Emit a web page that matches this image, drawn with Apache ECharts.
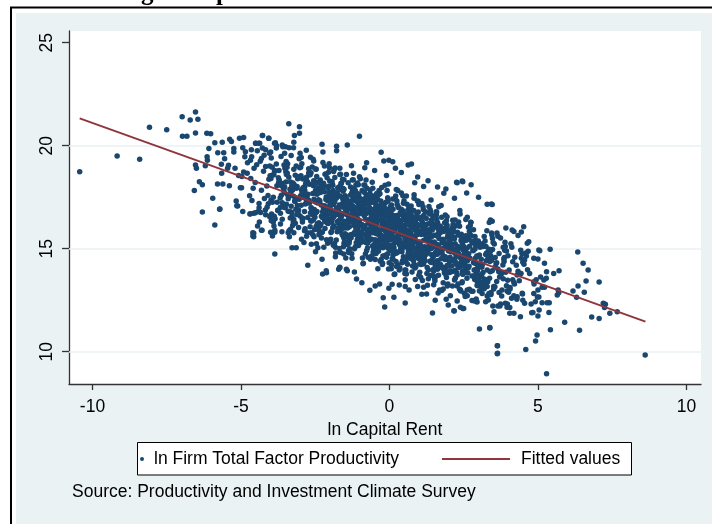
<!DOCTYPE html>
<html>
<head>
<meta charset="utf-8">
<script src="https://cdn.jsdelivr.net/npm/echarts@6/dist/echarts.min.js"></script>
<style>
  html, body { margin: 0; padding: 0; background: #fff; }
  #main { width: 712px; height: 524px; }
</style>
</head>
<body>
<div id="main"></div>
<script>
// axis ticks / gridlines
var rentTicks = [-10, -5, 0, 5, 10];
var tfpTicks = [10, 15, 20, 25];
var gridVals = [10, 15, 20];

// fitted line, read at the two ends
var fitted = [[-10.43, 21.33], [8.62, 11.46]];

// ln capital rent vs ln TFP, firms
var edgeLeft = [[-10.43,18.74],[-9.17,19.5],[-8.41,19.34],[-8.08,20.9],[-7.5,20.78],[-6.98,21.41],[-6.53,21.64],[-6.71,21.25],[-6.45,21.28],[-6.97,20.46],[-6.82,20.46],[-6.53,20.62],[-6.15,20.6],[-6.02,20.58],[-6.53,19.06],[-6.5,18.9],[-6.4,18.25],[-6.3,18.1],[-6.57,17.83],[-6.3,16.78],[-5.95,17.45],[-5.71,16.93],[-5.79,18.14],[-5.61,18.14],[-5.39,18.06],[-6.08,19.87],[-6.14,19.47],[-6.13,19.3],[-6.2,19.03],[-5.88,20.15],[-5.63,20.17],[-5.78,19.66],[-5.58,19.66],[-5.55,19.37],[-5.66,19.1],[-5.65,18.66],[-5.45,18.9],[-5.38,20.31],[-5.32,20.2],[-5.24,19.87],[-5.24,19.7],[-5.42,19.05],[-5.2,18.9],[-5.08,18.55],[-5.02,17.96],[-4.98,17.96],[-5.16,17.32],[-5.14,17.08],[-5.05,20.36],[-4.91,20.4],[-4.94,19.9],[-4.87,19.47],[-4.64,19.47],[-4.5,20.12],[-4.37,20.12],[-4.27,20.49],[-4.07,20.36],[-3.87,20.12],[-4.17,19.8],[-4.65,19.8],[-4.68,19.3],[-4.79,18.66],[-4.57,16.72],[-4.34,16.76],[-4.68,16.7],[-4.01,16.6],[-4.0,19.7],[-3.8,20.0],[-5.88,16.15],[-5.72,16.91],[-5.11,17.07],[-4.7,16.68],[-4.51,16.75],[-4.39,16.99],[-4.18,16.88],[-4.31,15.89],[-4.6,15.78],[-4.6,15.62],[-3.94,15.62],[-3.86,15.8],[-4.03,16.55],[-3.98,16.36],[-3.61,16.43],[-3.67,16.72],[-3.61,17.23]];
var edgeUpper = [[-3.39,21.07],[-3.03,20.92],[-3.03,20.6],[-3.2,20.5],[-1.01,20.46],[-4.28,20.5],[-4.06,20.36],[-4.51,20.12],[-4.4,20.12],[-3.84,20.15],[-3.61,20.03],[-3.5,19.95],[-3.22,20.17],[-3.38,19.9],[-3.23,19.9],[-2.8,19.78],[-2.27,20.07],[-1.78,19.98],[-1.78,19.76],[-1.42,20.03],[-2.24,19.7],[-0.28,19.68],[-0.19,19.26],[-0.02,19.3],[0.11,19.22],[0.63,19.06],[0.74,19.11],[2.28,18.2],[2.45,18.29],[2.75,18.1],[3.29,17.16],[3.43,17.17],[1.83,17.69],[2.19,17.45],[-0.77,19.17],[-0.83,18.93],[-1.28,19.03],[-1.67,18.9],[-2.02,18.93],[-2.66,19.44],[-2.57,19.34],[0.95,18.48],[1.3,18.3],[1.62,18.0],[1.9,17.9],[2.6,17.7],[3.0,17.5],[1.15,18.02],[0.4,18.7],[0.2,18.9],[-0.5,18.8],[-0.1,18.55],[0.85,18.2],[2.26,18.22],[2.47,18.25],[3.46,17.14],[3.4,16.39]];
var edgeLower = [[-3.86,14.74],[-3.28,15.05],[-3.14,15.05],[-4.29,15.9],[-4.57,15.75],[-4.57,15.58],[-4.0,15.8],[-3.86,15.9],[-2.75,14.2],[-2.25,13.77],[-2.12,13.83],[-1.71,14.0],[-1.45,14.0],[-2.96,15.46],[-2.63,15.21],[-2.46,15.24],[-2.49,14.85],[-2.27,14.49],[-2.13,13.93],[-1.82,14.61],[-1.68,14.08],[-1.54,14.74],[-1.42,13.93],[-3.33,15.94],[-3.22,15.78],[-1.67,14.1],[-1.18,13.87],[-1.11,13.53],[-0.93,13.35],[-0.66,12.98],[-0.48,13.19],[-0.33,13.29],[-0.21,12.62],[-0.16,12.17],[0.15,12.64],[0.53,12.36],[-0.02,13.08],[0.09,13.27],[0.33,13.24],[0.53,13.16],[0.66,13.0],[0.95,13.16],[1.15,13.13],[1.09,12.79],[1.25,12.8],[1.45,11.88],[1.54,12.5],[1.64,12.85],[1.81,13.04],[1.91,12.54],[1.98,12.27],[2.18,11.98],[2.28,12.46],[2.39,12.16],[2.5,12.09],[2.62,12.72],[2.62,13.0],[2.92,12.56],[2.95,12.41],[3.03,11.1],[3.38,11.15],[3.63,10.29],[3.63,9.9],[3.12,12.83],[3.29,12.7],[3.42,12.77],[3.65,12.22],[3.29,13.16],[2.17,11.99],[2.47,12.1]];
var edgeRight = [[4.52,16.07],[4.19,15.83],[4.13,15.91],[4.69,15.34],[4.64,15.26],[5.03,14.94],[5.06,14.9],[4.86,14.53],[5.0,14.5],[5.22,14.29],[5.29,13.88],[5.53,13.8],[5.71,13.93],[6.34,14.84],[6.52,14.29],[6.69,13.97],[6.62,13.43],[7.06,13.38],[6.18,12.95],[6.35,13.19],[6.56,12.88],[6.3,12.64],[5.9,11.43],[6.4,11.04],[6.81,11.68],[7.06,11.61],[7.2,12.35],[7.27,12.3],[7.24,12.15],[7.42,11.87],[7.67,11.94],[5.42,11.07],[5.68,13.0],[5.65,12.75],[5.7,12.86],[5.38,12.38],[5.31,12.38],[5.14,12.38],[5.04,12.02],[5.0,11.73],[4.97,10.81],[4.92,10.52],[5.29,8.93],[4.59,10.1],[3.64,10.29],[3.64,9.92],[3.38,11.17],[4.49,12.5],[4.55,12.35],[4.77,12.32],[4.83,11.9],[3.74,12.32],[3.9,12.35],[3.96,12.16],[4.05,11.87],[4.19,11.87],[4.3,12.67],[4.11,12.59],[4.86,12.83],[5.0,13.0],[4.86,13.4],[5.2,13.48],[5.28,13.56],[5.14,13.13],[4.67,14.88],[4.61,14.64],[4.55,14.45],[4.43,13.8],[4.3,13.72],[8.61,9.84]];
var coreA = [[-4.97,18.51],[-4.59,17.94],[-4.78,19.17],[-4.63,17.34],[-4.91,18.72],[-4.52,18.21],[-4.85,19.71],[-4.71,17.57],[-4.56,18.90],[-4.94,16.81],[-4.67,18.41],
[-4.47,19.08],[-4.09,17.58],[-4.28,19.89],[-4.13,18.05],[-4.41,16.82],[-4.02,18.54],[-4.35,19.25],[-4.21,17.44],[-4.06,18.37],[-4.44,16.10],[-4.17,18.99],[-4.31,17.84],[-4.04,19.64],[-4.39,17.20],[-4.24,18.76],
[-3.97,16.68],[-3.59,19.95],[-3.78,17.26],[-3.63,18.04],[-3.91,17.50],[-3.52,18.90],[-3.85,16.45],[-3.71,18.34],[-3.56,17.85],[-3.94,18.58],[-3.67,17.01],[-3.81,19.11],[-3.54,17.73],[-3.89,16.10],[-3.74,18.45],[-3.61,18.16],[-3.99,17.35],[-3.65,19.48],[-3.76,16.87],[-3.87,18.77],[-3.53,17.99],
[-3.47,17.16],[-3.09,18.39],[-3.28,16.56],[-3.13,17.94],[-3.41,17.43],[-3.02,18.93],[-3.35,16.79],[-3.21,18.12],[-3.06,16.03],[-3.44,17.63],[-3.17,18.56],[-3.31,17.06],[-3.04,19.37],[-3.39,17.53],[-3.24,16.30],[-3.11,18.02],[-3.49,18.73],[-3.15,16.92],[-3.26,17.85],[-3.37,15.58],[-3.03,18.47],[-3.19,17.32],[-3.43,19.12],[-3.08,16.68],[-3.33,18.24],[-3.22,16.42],
[-2.97,19.43],[-2.59,16.74],[-2.78,17.52],[-2.63,16.98],[-2.91,18.38],[-2.52,15.93],[-2.85,17.82],[-2.71,17.33],[-2.56,18.06],[-2.94,16.49],[-2.67,18.59],[-2.81,17.21],[-2.54,15.58],[-2.89,17.93],[-2.74,17.64],[-2.61,16.83],[-2.99,18.96],[-2.65,16.35],[-2.76,18.25],[-2.87,17.47],[-2.53,16.90],[-2.69,18.13],[-2.93,16.30],[-2.58,17.68],[-2.83,17.17],[-2.72,18.67],[-2.51,16.53],[-2.96,17.86],[-2.64,15.77],[-2.79,17.37],[-2.55,18.30],[-2.86,16.80],
[-2.47,18.86],[-2.09,17.02],[-2.28,15.79],[-2.13,17.51],[-2.41,18.22],[-2.02,16.41],[-2.35,17.34],[-2.21,15.07],[-2.06,17.96],[-2.44,16.81],[-2.17,18.61],[-2.31,16.17],[-2.04,17.73],[-2.39,15.91],[-2.24,19.18],[-2.11,16.49],[-2.49,17.27],[-2.15,16.73],[-2.26,18.13],[-2.37,15.68],[-2.03,17.57],[-2.19,17.08],[-2.43,17.81],[-2.08,16.24],[-2.33,18.34],[-2.22,16.96],[-2.01,15.33],[-2.46,17.68],[-2.14,17.39],[-2.29,16.58],[-2.05,18.71],[-2.38,16.10],[-2.23,18.00],[-2.42,17.22],[-2.16,16.65],[-2.34,17.88],
[-1.97,15.79],[-1.59,17.17],[-1.78,16.66],[-1.63,18.16],[-1.91,16.02],[-1.52,17.35],[-1.85,15.26],[-1.71,16.86],[-1.56,17.79],[-1.94,16.29],[-1.67,18.60],[-1.81,16.76],[-1.54,15.53],[-1.89,17.25],[-1.74,17.96],[-1.61,16.15],[-1.99,17.08],[-1.65,14.81],[-1.76,17.70],[-1.87,16.55],[-1.53,18.35],[-1.69,15.91],[-1.93,17.47],[-1.58,15.65],[-1.83,18.92],[-1.72,16.23],[-1.51,17.01],[-1.96,16.47],[-1.64,17.87],[-1.79,15.42],[-1.55,17.31],[-1.88,16.82],[-1.73,17.55],[-1.60,15.98],[-1.92,18.08],[-1.68,16.70],[-1.82,15.07],[-1.57,17.42],[-1.98,17.13],[-1.75,16.32]];
var coreB = [[-1.47,14.55],[-1.09,17.44],[-1.28,16.29],[-1.13,18.09],[-1.41,15.65],[-1.02,17.21],[-1.35,15.39],[-1.21,18.66],[-1.06,15.97],[-1.44,16.75],[-1.17,16.21],[-1.31,17.61],[-1.04,15.16],[-1.39,17.05],[-1.24,16.56],[-1.11,17.29],[-1.49,15.72],[-1.15,17.82],[-1.26,16.44],[-1.37,14.81],[-1.03,17.16],[-1.19,16.87],[-1.43,16.06],[-1.08,18.19],[-1.33,15.58],[-1.22,17.48],[-1.01,16.70],[-1.46,16.13],[-1.14,17.36],[-1.29,15.53],[-1.05,16.91],[-1.38,16.40],[-1.23,17.90],[-1.10,15.76],[-1.42,17.09],[-1.18,15.00],[-1.32,16.60],[-1.07,17.53],[-1.48,16.03],[-1.25,18.34],[-1.12,16.50],[-1.36,15.27],[-1.03,16.99],[-1.27,17.70],
[-0.97,17.03],[-0.59,15.46],[-0.78,17.56],[-0.63,16.18],[-0.91,14.55],[-0.52,16.90],[-0.85,16.61],[-0.71,15.80],[-0.56,17.93],[-0.94,15.32],[-0.67,17.22],[-0.81,16.44],[-0.54,15.87],[-0.89,17.10],[-0.74,15.27],[-0.61,16.65],[-0.99,16.14],[-0.65,17.64],[-0.76,15.50],[-0.87,16.83],[-0.53,14.74],[-0.69,16.34],[-0.93,17.27],[-0.58,15.77],[-0.83,18.08],[-0.72,16.24],[-0.51,15.01],[-0.96,16.73],[-0.64,17.44],[-0.79,15.63],[-0.55,16.56],[-0.88,14.29],[-0.73,17.18],[-0.60,16.03],[-0.92,17.83],[-0.68,15.39],[-0.82,16.95],[-0.57,15.13],[-0.98,18.40],[-0.75,15.71],[-0.62,16.49],[-0.86,15.95],[-0.53,17.35],[-0.77,14.90],[-0.66,16.79],
[-0.47,15.24],[-0.09,16.57],[-0.28,14.48],[-0.13,16.08],[-0.41,17.01],[-0.02,15.51],[-0.35,17.82],[-0.21,15.98],[-0.06,14.75],[-0.44,16.47],[-0.17,17.18],[-0.31,15.37],[-0.04,16.30],[-0.39,14.03],[-0.24,16.92],[-0.11,15.77],[-0.49,17.57],[-0.15,15.13],[-0.26,16.69],[-0.37,14.87],[-0.03,18.14],[-0.19,15.45],[-0.43,16.23],[-0.08,15.69],[-0.33,17.09],[-0.22,14.64],[-0.01,16.53],[-0.46,16.04],[-0.14,16.77],[-0.29,15.20],[-0.05,17.30],[-0.38,15.92],[-0.23,14.29],[-0.10,16.64],[-0.42,16.35],[-0.18,15.54],[-0.32,17.67],[-0.07,15.06],[-0.48,16.96],[-0.25,16.18],[-0.12,15.61],[-0.36,16.84],[-0.03,15.01],[-0.27,16.39],[-0.16,15.88],[-0.40,17.38],
[0.03,15.43],[0.41,16.83],[0.22,14.38],[0.37,16.27],[0.09,15.78],[0.48,16.51],[0.15,14.94],[0.29,17.04],[0.44,15.66],[0.06,14.03],[0.33,16.38],[0.19,16.09],[0.46,15.28],[0.11,17.41],[0.26,14.80],[0.39,16.70],[0.01,15.92],[0.35,15.35],[0.24,16.58],[0.13,14.75],[0.47,16.13],[0.31,15.62],[0.07,17.12],[0.42,14.98],[0.17,16.31],[0.28,14.22],[0.49,15.82],[0.04,16.75],[0.36,15.25],[0.21,17.56],[0.45,15.72],[0.12,14.49],[0.27,16.21],[0.40,16.92],[0.08,15.11],[0.32,16.04],[0.18,13.77],[0.43,16.66],[0.02,15.51],[0.25,17.31],[0.38,14.87],[0.14,16.43],[0.47,14.61],[0.23,17.88],[0.34,15.19],[0.10,15.97]];
var coreC = [[0.53,16.66],[0.91,14.85],[0.72,15.78],[0.87,13.51],[0.59,16.40],[0.98,15.25],[0.65,17.05],[0.79,14.61],[0.94,16.17],[0.56,14.35],[0.83,17.62],[0.69,14.93],[0.96,15.71],[0.61,15.17],[0.76,16.57],[0.89,14.12],[0.51,16.01],[0.85,15.52],[0.74,16.25],[0.63,14.68],[0.97,16.78],[0.81,15.40],[0.57,13.77],[0.92,16.12],[0.67,15.83],[0.78,15.02],[0.99,17.15],[0.54,14.54],[0.86,16.44],[0.71,15.66],[0.95,15.09],[0.62,16.32],[0.77,14.49],[0.90,15.87],[0.58,15.36],[0.82,16.86],[0.68,14.72],[0.93,16.05],[0.52,13.96],[0.75,15.56],[0.88,16.49],[0.64,14.99],[0.97,17.30],[0.73,15.46],[0.84,14.23],
[1.03,15.86],[1.41,15.57],[1.22,14.76],[1.37,16.89],[1.09,14.28],[1.48,16.18],[1.15,15.40],[1.29,14.83],[1.44,16.06],[1.06,14.23],[1.33,15.61],[1.19,15.10],[1.46,16.60],[1.11,14.46],[1.26,15.79],[1.39,13.70],[1.01,15.30],[1.35,16.23],[1.24,14.73],[1.13,17.04],[1.47,15.20],[1.31,13.97],[1.07,15.69],[1.42,16.40],[1.17,14.59],[1.28,15.52],[1.49,13.25],[1.04,16.14],[1.36,14.99],[1.21,16.79],[1.45,14.35],[1.12,15.91],[1.27,14.09],[1.40,17.36],[1.08,14.67],[1.32,15.45],[1.18,14.91],[1.43,16.31],[1.02,13.86],[1.25,15.75],[1.38,15.26],[1.14,15.99],
[1.53,13.44],[1.91,15.04],[1.72,15.97],[1.87,14.47],[1.59,16.78],[1.98,14.94],[1.65,13.71],[1.79,15.43],[1.94,16.14],[1.56,14.33],[1.83,15.26],[1.69,12.99],[1.96,15.88],[1.61,14.73],[1.76,16.53],[1.89,14.09],[1.51,15.65],[1.85,13.83],[1.74,17.10],[1.63,14.41],[1.97,15.19],[1.81,14.65],[1.57,16.05],[1.92,13.60],[1.67,15.49],[1.78,15.00],[1.99,15.73],[1.54,14.16],[1.86,16.26],[1.71,14.88],[1.95,13.25],[1.62,15.60],[1.77,15.31],[1.90,14.50],[1.58,16.63],[1.82,14.02],[1.68,15.92],[1.93,15.14],
[2.03,13.84],[2.41,15.40],[2.22,13.58],[2.37,16.85],[2.09,14.16],[2.48,14.94],[2.15,14.40],[2.29,15.80],[2.44,13.35],[2.06,15.24],[2.33,14.75],[2.19,15.48],[2.46,13.91],[2.11,16.01],[2.26,14.63],[2.39,13.00],[2.01,15.35],[2.35,15.06],[2.24,14.25],[2.13,16.38],[2.47,13.77],[2.31,15.67],[2.07,14.89],[2.42,14.32],[2.17,15.55],[2.28,13.72],[2.49,15.10],[2.04,14.59],[2.36,16.09],[2.21,13.95],[2.45,15.28],[2.12,13.19],[2.27,14.79],
[2.53,14.80],[2.91,13.99],[2.72,16.12],[2.87,13.51],[2.59,15.41],[2.98,14.63],[2.65,14.06],[2.79,15.29],[2.94,13.46],[2.56,14.84],[2.83,14.33],[2.69,15.83],[2.96,13.69],[2.61,15.02],[2.76,12.93],[2.89,14.53],[2.51,15.46],[2.85,13.96],[2.74,16.27],[2.63,14.43],[2.97,13.20],[2.81,14.92],[2.57,15.63],[2.92,13.82],[2.67,14.75],[2.78,12.48],[2.99,15.37],[2.54,14.22],
[3.03,12.94],[3.41,14.66],[3.22,15.37],[3.37,13.56],[3.09,14.49],[3.48,12.22],[3.15,15.11],[3.29,13.96],[3.44,15.76],[3.06,13.32],[3.33,14.88],[3.19,13.06],[3.46,16.33],[3.11,13.64],[3.26,14.42],[3.39,13.88],[3.01,15.28],[3.35,12.83],[3.24,14.72],[3.13,14.23],[3.47,14.96],[3.31,13.39],
[3.53,15.23],[3.91,13.85],[3.72,12.22],[3.87,14.57],[3.59,14.28],[3.98,13.47],[3.65,15.60],[3.79,12.99],[3.94,14.89],[3.56,14.11],[3.83,13.54],[3.69,14.77],[3.96,12.94],[3.61,14.32],[3.76,13.81],[3.89,15.31],[3.51,13.17],[3.85,14.50],
[4.03,13.97],[4.41,11.70],[4.22,14.59],[4.37,13.44],[4.09,15.24],[4.48,12.80],[4.15,14.36],[4.29,12.54],[4.44,15.81],[4.06,13.12],[4.33,13.90],[4.19,13.36],[4.46,14.76],
[4.53,14.25],[4.91,12.42],[4.72,13.80],[4.87,13.29],[4.59,14.79],[4.98,12.65],[4.65,13.98],[4.79,11.89],[4.94,13.49],
[5.03,12.66],[5.41,14.97],[5.22,13.13],[5.37,11.90],[5.09,13.62]];
// the solid middle of the cloud, close to the fitted line
var denseA = [[-3.73,18.22],[-3.94,17.25],[-3.56,17.95],[-3.85,18.78],[-3.64,17.60],[-3.99,18.41],[-3.51,16.99],[-3.79,18.06],[-3.68,17.46],[-3.89,18.59],
[-3.23,17.55],[-3.44,18.66],[-3.06,16.88],[-3.35,17.89],[-3.14,17.46],[-3.49,18.24],[-3.01,16.59],[-3.29,18.05],[-3.18,17.29],[-3.39,18.47],[-3.10,17.10],[-3.32,17.74],[-3.47,18.60],[-3.04,17.40],[-3.25,18.19],[-3.41,16.82],
[-2.73,17.37],[-2.94,17.74],[-2.56,16.40],[-2.85,18.02],[-2.64,16.99],[-2.99,17.57],[-2.51,16.77],[-2.79,18.47],[-2.68,17.24],[-2.89,17.82],[-2.60,16.66],[-2.82,18.16],[-2.97,17.11],[-2.54,17.40],[-2.75,16.51],[-2.91,17.96],[-2.62,16.90],[-2.86,17.66],[-2.71,17.22],[-2.58,18.11],[-2.93,17.70],[-2.66,16.73],[-2.80,17.43],[-2.53,18.26],
[-2.23,16.83],[-2.44,17.64],[-2.06,16.22],[-2.35,17.29],[-2.14,16.69],[-2.49,17.82],[-2.01,17.04],[-2.29,18.15],[-2.18,16.37],[-2.39,17.38],[-2.10,16.95],[-2.32,17.73],[-2.47,16.08],[-2.04,17.54],[-2.25,16.78],[-2.41,17.96],[-2.12,16.59],[-2.36,17.23],[-2.21,18.09],[-2.08,16.89],[-2.43,17.68],[-2.16,16.31],[-2.30,17.12],[-2.03,17.49],[-2.38,16.15],[-2.19,17.77],[-2.48,16.74],[-2.07,17.32],[-2.26,16.52],[-2.34,18.22],
[-1.73,16.73],[-1.94,17.31],[-1.56,16.15],[-1.85,17.65],[-1.64,16.60],[-1.99,16.89],[-1.51,16.00],[-1.79,17.45],[-1.68,16.39],[-1.89,17.15],[-1.60,16.71],[-1.82,17.60],[-1.97,17.19],[-1.54,16.22],[-1.75,16.92],[-1.91,17.75],[-1.62,16.57],[-1.86,17.38],[-1.71,15.96],[-1.58,17.03],[-1.93,16.43],[-1.66,17.56],[-1.80,16.78],[-1.53,17.89],[-1.88,16.11],[-1.69,17.12],[-1.98,16.69],[-1.57,17.47],[-1.76,15.82],[-1.84,17.28],[-1.63,16.52],[-1.95,17.70],[-1.52,16.33],[-1.78,16.97],[-1.90,17.83],[-1.67,16.63],
[-1.23,17.02],[-1.44,16.26],[-1.06,17.44],[-1.35,16.07],[-1.14,16.71],[-1.49,17.57],[-1.01,16.37],[-1.29,17.16],[-1.18,15.79],[-1.39,16.60],[-1.10,16.97],[-1.32,15.63],[-1.47,17.25],[-1.04,16.22],[-1.25,16.80],[-1.41,16.00],[-1.12,17.70],[-1.36,16.47],[-1.21,17.05],[-1.08,15.89],[-1.43,17.39],[-1.16,16.34],[-1.30,16.63],[-1.03,15.74],[-1.38,17.19],[-1.19,16.13],[-1.48,16.89],[-1.07,16.45],[-1.26,17.34],[-1.34,16.93],[-1.13,15.96],[-1.45,16.66],[-1.02,17.49],[-1.28,16.31],[-1.40,17.12],[-1.17,15.70],[-1.24,16.77],[-1.09,16.17],[-1.42,17.30],[-1.31,16.52],
[-0.73,15.48],[-0.94,16.93],[-0.56,15.87],[-0.85,16.63],[-0.64,16.19],[-0.99,17.08],[-0.51,16.67],[-0.79,15.70],[-0.68,16.40],[-0.89,17.23],[-0.60,16.05],[-0.82,16.86],[-0.97,15.44],[-0.54,16.51],[-0.75,15.91],[-0.91,17.04],[-0.62,16.26],[-0.86,17.37],[-0.71,15.59],[-0.58,16.60],[-0.93,16.17],[-0.66,16.95],[-0.80,15.30],[-0.53,16.76],[-0.88,16.00],[-0.69,17.18],[-0.98,15.81],[-0.57,16.45],[-0.76,17.31],[-0.84,16.11],[-0.63,16.90],[-0.95,15.53],[-0.52,16.34],[-0.78,16.71],[-0.90,15.37],[-0.67,16.99],[-0.74,15.96],[-0.59,16.54],[-0.92,15.74],[-0.81,17.44],[-0.55,16.21],[-0.87,16.79],[-0.70,15.63],[-0.96,17.13],
[-0.23,16.19],[-0.44,17.05],[-0.06,15.85],[-0.35,16.64],[-0.14,15.27],[-0.49,16.08],[-0.01,16.45],[-0.29,15.11],[-0.18,16.73],[-0.39,15.70],[-0.10,16.28],[-0.32,15.48],[-0.47,17.18],[-0.04,15.95],[-0.25,16.53],[-0.41,15.37],[-0.12,16.87],[-0.36,15.82],[-0.21,16.11],[-0.08,15.22],[-0.43,16.67],[-0.16,15.61],[-0.30,16.37],[-0.03,15.93],[-0.38,16.82],[-0.19,16.41],[-0.48,15.44],[-0.07,16.14],[-0.26,16.97],[-0.34,15.79],[-0.13,16.60],[-0.45,15.18],[-0.02,16.25],[-0.28,15.65],[-0.40,16.78],[-0.17,16.00],[-0.24,17.11],[-0.09,15.33],[-0.42,16.34],[-0.31,15.91],[-0.05,16.69],[-0.37,15.04],[-0.20,16.50],[-0.46,15.74],[-0.11,16.92],[-0.27,15.55]];
var denseB = [[0.27,16.52],[0.06,15.74],[0.44,16.85],[0.15,15.07],[0.36,16.08],[0.01,15.65],[0.49,16.43],[0.21,14.78],[0.32,16.24],[0.11,15.48],[0.40,16.66],[0.18,15.29],[0.03,15.93],[0.46,16.79],[0.25,15.59],[0.09,16.38],[0.38,15.01],[0.14,15.82],[0.29,16.19],[0.42,14.85],[0.07,16.47],[0.34,15.44],[0.20,16.02],[0.47,15.22],[0.12,16.92],[0.31,15.69],[0.02,16.27],[0.43,15.11],[0.24,16.61],[0.16,15.56],[0.37,15.85],[0.05,14.96],[0.48,16.41],[0.22,15.35],[0.10,16.11],[0.33,15.67],[0.26,16.56],[0.41,16.15],[0.08,15.18],[0.19,15.88],[0.45,16.71],[0.13,15.53],[0.30,16.34],[0.04,14.92],[0.39,15.99],[0.23,15.39],
[0.77,15.18],[0.56,15.76],[0.94,14.96],[0.65,16.66],[0.86,15.43],[0.51,16.01],[0.99,14.85],[0.71,16.35],[0.82,15.30],[0.61,15.59],[0.90,14.70],[0.68,16.15],[0.53,15.09],[0.96,15.85],[0.75,15.41],[0.59,16.30],[0.88,15.89],[0.64,14.92],[0.79,15.62],[0.92,16.45],[0.57,15.27],[0.84,16.08],[0.70,14.66],[0.97,15.73],[0.62,15.13],[0.81,16.26],[0.52,15.48],[0.93,16.59],[0.74,14.81],[0.66,15.82],[0.87,15.39],[0.55,16.17],[0.98,14.52],[0.72,15.98],[0.60,15.22],[0.83,16.40],[0.76,15.03],[0.91,15.67],[0.58,16.53],[0.69,15.33],[0.95,16.12],[0.63,14.75],[0.80,15.56],[0.54,15.93],
[1.27,15.56],[1.06,15.13],[1.44,15.91],[1.15,14.26],[1.36,15.72],[1.01,14.96],[1.49,16.14],[1.21,14.77],[1.32,15.41],[1.11,16.27],[1.40,15.07],[1.18,15.86],[1.03,14.49],[1.46,15.30],[1.25,15.67],[1.09,14.33],[1.38,15.95],[1.14,14.92],[1.29,15.50],[1.42,14.70],[1.07,16.40],[1.34,15.17],[1.20,15.75],[1.47,14.59],[1.12,16.09],[1.31,15.04],[1.02,15.33],[1.43,14.44],[1.24,15.89],[1.16,14.83],[1.37,15.59],[1.05,15.15],[1.48,16.04],[1.22,15.63],[1.10,14.66],[1.33,15.36],[1.26,16.19],[1.41,15.01],[1.08,15.82],[1.19,14.40],
[1.77,14.78],[1.56,15.07],[1.94,14.18],[1.65,15.63],[1.86,14.57],[1.51,15.33],[1.99,14.89],[1.71,15.78],[1.82,15.37],[1.61,14.40],[1.90,15.10],[1.68,15.93],[1.53,14.75],[1.96,15.56],[1.75,14.14],[1.59,15.21],[1.88,14.61],[1.64,15.74],[1.79,14.96],[1.92,16.07],[1.57,14.29],[1.84,15.30],[1.70,14.87],[1.97,15.65],[1.62,14.00],[1.81,15.46],[1.52,14.70],[1.93,15.88],[1.74,14.51],[1.66,15.15],[1.87,16.01],[1.55,14.81],[1.98,15.60],[1.72,14.23],[1.60,15.04],[1.83,15.41],
[2.27,13.82],[2.06,15.44],[2.44,14.41],[2.15,14.99],[2.36,14.19],[2.01,15.89],[2.49,14.66],[2.21,15.24],[2.32,14.08],[2.11,15.58],[2.40,14.53],[2.18,14.82],[2.03,13.93],[2.46,15.38],[2.25,14.32],[2.09,15.08],[2.38,14.64],[2.14,15.53],[2.29,15.12],[2.42,14.15],[2.07,14.85],[2.34,15.68],[2.20,14.50],[2.47,15.31],[2.12,13.89],[2.31,14.96],[2.02,14.36],[2.43,15.49],[2.24,14.71],[2.16,15.82],
[2.77,15.37],[2.56,14.00],[2.94,14.64],[2.65,15.50],[2.86,14.30],[2.51,15.09],[2.99,13.72],[2.71,14.53],[2.82,14.90],[2.61,13.56],[2.90,15.18],[2.68,14.15],[2.53,14.73],[2.96,13.93],[2.75,15.63],[2.59,14.40],[2.88,14.98],[2.64,13.82],[2.79,15.32],[2.92,14.27],[2.57,14.56],[2.84,13.67],[2.70,15.12],[2.97,14.06],
[3.27,14.79],[3.06,13.37],[3.44,14.44],[3.15,13.84],[3.36,14.97],[3.01,14.19],[3.49,15.30],[3.21,13.52],[3.32,14.53],[3.11,14.10],[3.40,14.88],[3.18,13.23],[3.03,14.69],[3.46,13.93],[3.25,15.11],[3.09,13.74],[3.38,14.38],[3.14,15.24],
[3.77,13.78],[3.56,14.57],[3.94,13.20],[3.65,14.01],[3.86,14.38],[3.51,13.04],[3.99,14.66],[3.71,13.63],[3.82,14.21],[3.61,13.41],[3.90,15.11],[3.68,13.88],
[4.27,14.20],[4.06,13.04],[4.44,14.54],[4.15,13.49],[4.36,13.78],[4.01,12.89],[4.49,14.34],[4.21,13.28]];
// the outer band of the cloud, 1 to 2 units off the line
var band = [[-4.31,19.38],[-4.08,17.18],[-4.45,19.75],[-4.17,16.65],[-4.03,19.01],[-4.38,16.30],[-4.22,19.54],[-4.12,17.01],
[-3.81,19.89],[-3.58,17.03],[-3.95,18.95],[-3.67,16.20],[-3.53,19.64],[-3.88,16.58],[-3.72,18.80],[-3.62,15.82],[-3.98,19.40],[-3.76,16.86],[-3.55,19.06],[-3.91,16.29],
[-3.31,19.52],[-3.08,16.72],[-3.45,18.95],[-3.17,16.23],[-3.03,18.43],[-3.38,15.87],[-3.22,18.86],[-3.12,16.66],[-3.48,19.23],[-3.26,16.13],[-3.05,18.49],[-3.41,15.78],[-3.14,19.02],[-3.34,16.49],[-3.01,19.63],[-3.29,16.77],
[-2.81,18.43],[-2.58,15.68],[-2.95,19.12],[-2.67,16.06],[-2.53,18.28],[-2.88,15.30],[-2.72,18.88],[-2.62,16.34],[-2.98,18.54],[-2.76,15.77],[-2.55,19.26],[-2.91,16.46],[-2.64,18.69],[-2.84,15.97],[-2.51,18.17],[-2.79,15.61],[-2.69,18.60],[-2.93,16.40],[-2.60,18.97],[-2.86,15.87],
[-2.31,17.98],[-2.08,15.27],[-2.45,18.51],[-2.17,15.98],[-2.03,19.12],[-2.38,16.26],[-2.22,18.18],[-2.12,15.43],[-2.48,18.87],[-2.26,15.81],[-2.05,18.03],[-2.41,15.05],[-2.14,18.63],[-2.34,16.09],[-2.01,18.29],[-2.29,15.52],[-2.19,19.01],[-2.43,16.21],[-2.10,18.44],[-2.36,15.72],[-2.24,17.92],[-2.06,15.36],
[-1.81,14.79],[-1.58,18.37],[-1.95,15.83],[-1.67,18.03],[-1.53,15.26],[-1.88,18.75],[-1.72,15.95],[-1.62,18.18],[-1.98,15.46],[-1.76,17.66],[-1.55,15.10],[-1.91,18.09],[-1.64,15.89],[-1.84,18.46],[-1.51,15.36],[-1.79,17.72],[-1.69,15.01],[-1.93,18.25],[-1.60,15.72],[-1.86,18.86],[-1.74,16.00],[-1.56,17.92],[-1.89,15.17],[-1.65,18.61],
[-1.31,17.99],[-1.08,15.46],[-1.45,18.60],[-1.17,15.74],[-1.03,17.66],[-1.38,14.91],[-1.22,18.35],[-1.12,15.29],[-1.48,17.51],[-1.26,14.53],[-1.05,18.11],[-1.41,15.57],[-1.14,17.77],[-1.34,15.00],[-1.01,18.49],[-1.29,15.69],[-1.19,17.92],[-1.43,15.20],[-1.10,17.40],[-1.36,14.84],[-1.24,17.83],[-1.06,15.63],[-1.39,18.20],[-1.15,15.10],[-1.47,17.46],[-1.27,14.75],
[-0.81,14.74],[-0.58,18.23],[-0.95,15.43],[-0.67,17.66],[-0.53,14.94],[-0.88,17.14],[-0.72,14.58],[-0.62,17.57],[-0.98,15.37],[-0.76,17.94],[-0.55,14.84],[-0.91,17.20],[-0.64,14.49],[-0.84,17.73],[-0.51,15.20],[-0.79,18.34],[-0.69,15.48],[-0.93,17.40],[-0.60,14.65],[-0.86,18.09],[-0.74,15.03],[-0.56,17.25],[-0.89,14.27],[-0.65,17.85],[-0.97,15.31],[-0.77,17.51],
[-0.31,14.39],[-0.08,17.83],[-0.45,14.77],[-0.17,16.99],[-0.03,14.01],[-0.38,17.59],[-0.22,15.05],[-0.12,17.25],[-0.48,14.48],[-0.26,17.97],[-0.05,15.17],[-0.41,17.40],[-0.14,14.68],[-0.34,16.88],[-0.01,14.32],[-0.29,17.31],[-0.19,15.11],[-0.43,17.68],[-0.10,14.58],[-0.36,16.94],[-0.24,14.23],[-0.06,17.47],[-0.39,14.94],[-0.15,18.08],[-0.47,15.22],[-0.27,17.14],
[0.19,17.42],[0.42,14.32],[0.05,16.68],[0.33,13.97],[0.47,17.21],[0.12,14.68],[0.28,17.82],[0.38,14.96],[0.02,16.88],[0.24,14.13],[0.45,17.57],[0.09,14.51],[0.36,16.73],[0.16,13.75],[0.49,17.33],[0.21,14.79],[0.31,16.99],[0.07,14.22],[0.40,17.71],[0.14,14.91],[0.26,17.14],[0.44,14.42],[0.11,16.62],[0.35,14.06],[0.03,17.05],[0.23,14.85],
[0.69,14.53],[0.92,16.73],[0.55,13.96],[0.83,17.45],[0.97,14.65],[0.62,16.88],[0.78,14.16],[0.88,16.36],[0.52,13.80],[0.74,16.79],[0.95,14.59],[0.59,17.16],[0.86,14.06],[0.66,16.42],[0.99,13.71],[0.71,16.95],[0.81,14.42],[0.57,17.56],[0.90,14.70],[0.64,16.62],[0.76,13.87],[0.94,17.31],[0.61,14.25],[0.85,16.47],[0.53,13.49],[0.73,17.07],
[1.19,14.44],[1.42,16.36],[1.05,13.61],[1.33,17.05],[1.47,13.99],[1.12,16.21],[1.28,13.23],[1.38,16.81],[1.02,14.27],[1.24,16.47],[1.45,13.70],[1.09,17.19],[1.36,14.39],[1.16,16.62],[1.49,13.90],[1.21,16.10],[1.31,13.54],[1.07,16.53],[1.40,14.33],[1.14,16.90],[1.26,13.80],[1.44,16.16],[1.11,13.45],[1.35,16.69],
[1.69,14.13],[1.92,16.36],[1.55,13.64],[1.83,15.84],[1.97,13.28],[1.62,16.27],[1.78,14.07],[1.88,16.64],[1.52,13.54],[1.74,15.90],[1.95,13.19],[1.59,16.43],[1.86,13.90],[1.66,17.04],[1.99,14.18],[1.71,16.10],[1.81,13.35],[1.57,16.79],[1.90,13.73],[1.64,15.95],[1.76,12.97],[1.94,16.55],
[2.19,13.48],[2.42,15.70],[2.05,12.72],[2.33,16.30],[2.47,13.76],[2.12,15.96],[2.28,13.19],[2.38,16.68],[2.02,13.88],[2.24,16.11],[2.45,13.39],[2.09,15.59],[2.36,13.03],[2.16,16.02],[2.49,13.82],[2.21,16.39],[2.31,13.29],[2.07,15.65],[2.40,12.94],[2.14,16.18],
[2.69,13.03],[2.92,15.39],[2.55,12.68],[2.83,15.92],[2.97,13.39],[2.62,16.53],[2.78,13.67],[2.88,15.59],[2.52,12.84],[2.74,16.28],[2.95,13.22],[2.59,15.44],[2.86,12.46],[2.66,16.04],[2.99,13.50],[2.71,15.70],[2.81,12.93],[2.57,16.42],
[3.19,15.59],[3.42,12.87],[3.05,15.07],[3.33,12.51],[3.47,15.50],[3.12,13.30],[3.28,15.87],[3.38,12.77],[3.02,15.13],[3.24,12.42],[3.45,15.66],[3.09,13.13],[3.36,16.27],[3.16,13.41],
[3.69,12.87],[3.92,16.01],[3.55,13.15],[3.83,15.07],[3.97,12.32],[3.62,15.76],[3.78,12.70],[3.88,14.92],[3.52,11.94],[3.74,15.52],
[4.19,12.72],[4.42,14.92],[4.05,12.15],[4.33,15.64],[4.47,12.84],[4.12,15.07]];

var firms = [].concat(edgeLeft, edgeUpper, edgeLower, edgeRight, coreA, coreB, coreC, denseA, denseB, band);

var navy = '#1a476f';
var maroon = '#90353b';
var bluishGray = '#eaf2f3';
var font = '"Liberation Sans", Arial, sans-serif';
var fs = 17.5;

var myChart = echarts.init(document.getElementById('main'));
var option = {
    animation: false,
    graphic: [
        // stata style outer frame
        {type: 'rect', z: -20, silent: true, shape: {x: 11, y: 7.5, width: 740, height: 560}, style: {fill: '#fff', stroke: '#000', lineWidth: 2}},
        {type: 'rect', z: -19, silent: true, shape: {x: 16, y: 13, width: 740, height: 560}, style: {fill: bluishGray}},
        // bits of the heading above, cut off by the page
        {type: 'text', x: 141, y: 6, silent: true, style: {text: 'g', fill: '#000', font: 'bold 25px "Liberation Serif", serif', verticalAlign: 'bottom'}},
        {type: 'text', x: 216, y: 6, silent: true, style: {text: 'p', fill: '#000', font: 'bold 25px "Liberation Serif", serif', verticalAlign: 'bottom'}},
        // legend box
        {type: 'rect', silent: true, shape: {x: 137.5, y: 442.5, width: 494, height: 32.5}, style: {fill: '#fff', stroke: '#000', lineWidth: 1}},
        {type: 'text', x: 72, y: 492, silent: true, style: {text: 'Source: Productivity and Investment Climate Survey', fill: '#000', fontSize: fs, fontFamily: font, verticalAlign: 'middle'}}
    ],
    grid: {left: 69, right: 11, top: 31, bottom: 140, show: true, backgroundColor: '#fff', borderWidth: 0},
    legend: [
        {
            data: [{name: 'ln Firm Total Factor Productivity', icon: 'circle'}],
            left: 140, top: 450, padding: 0, itemWidth: 14, itemHeight: 4,
            selectedMode: false,
            textStyle: {color: '#000', fontSize: fs, fontFamily: font}
        },
        {
            data: [{name: 'Fitted values', icon: 'rect'}],
            left: 442, top: 450, padding: 0, itemWidth: 68, itemHeight: 2,
            selectedMode: false,
            textStyle: {color: '#000', fontSize: fs, fontFamily: font, padding: [0, 0, 0, 6]}
        }
    ],
    xAxis: {
        type: 'value', min: -10.79, max: 10.49,
        name: 'ln Capital Rent', nameLocation: 'middle', nameGap: 30,
        nameTextStyle: {color: '#000', fontSize: fs, fontFamily: font},
        axisLine: {show: true, onZero: false, lineStyle: {color: '#333', width: 1.3}},
        axisTick: {show: true, length: 6, customValues: rentTicks, lineStyle: {color: '#333', width: 1.3}},
        axisLabel: {customValues: rentTicks, margin: 14, color: '#000', fontSize: fs, fontFamily: font},
        splitLine: {show: false}
    },
    yAxis: {
        type: 'value', min: 8.43, max: 25.57,
        axisLine: {show: true, onZero: false, lineStyle: {color: '#333', width: 1.3}},
        axisTick: {show: true, length: 7, customValues: tfpTicks, lineStyle: {color: '#333', width: 1.3}},
        axisLabel: {customValues: tfpTicks, rotate: 90, margin: 13, color: '#000', fontSize: fs, fontFamily: font},
        splitLine: {show: false}
    },
    series: [
        {
            name: 'grid', type: 'line', data: [], z: 1, silent: true,
            markLine: {
                z: 1, symbol: 'none', silent: true, animation: false,
                label: {show: false},
                lineStyle: {color: bluishGray, width: 1.6, type: 'solid'},
                data: gridVals.map(function (v) { return {yAxis: v}; })
            }
        },
        {
            name: 'ln Firm Total Factor Productivity', type: 'scatter', z: 2,
            data: firms, symbol: 'circle', symbolSize: 5.5, large: false,
            itemStyle: {color: navy, opacity: 1}
        },
        {
            name: 'Fitted values', type: 'line', z: 3,
            data: fitted, symbol: 'none',
            lineStyle: {color: maroon, width: 2},
            itemStyle: {color: maroon}
        }
    ]
};
myChart.setOption(option);
</script>
</body>
</html>
